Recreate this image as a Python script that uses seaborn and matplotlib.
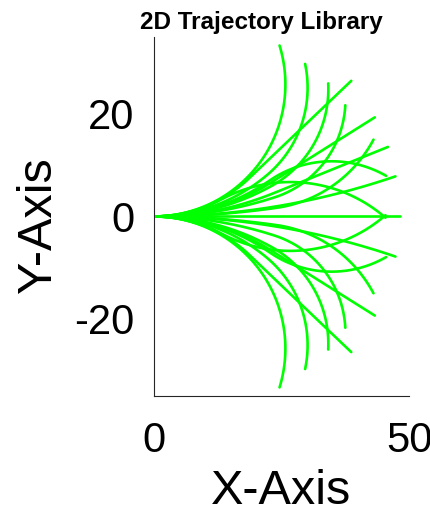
import numpy as np
import pandas as pd
import matplotlib
matplotlib.use("Agg")
import matplotlib.pyplot as plt
import seaborn as sns

# Each trajectory: start at origin with heading 0, first arc (curv1, len1),
# then a second arc with curv2 for the rest of the path length.
path_length = 48.2
curv1 = [0.0388, 0.0290, 0.0210, 0.0369, 0.0130, 0.0232, 0.0058, 0.0159, 0.0249, 0.0068, 0.0357, 0.0,
         -0.0388, -0.0290, -0.0210, -0.0369, -0.0130, -0.0232, -0.0058, -0.0249, -0.0068, -0.0357]
len1 = [24.1, 24.1, 24.1, 20.6, 24.1, 24.1, 24.1, 24.1, 24.1, 24.1, 13.8, 24.1,
        24.1, 24.1, 24.1, 20.6, 24.1, 24.1, 24.1, 24.1, 24.1, 13.8]
curv2 = [0.0388, 0.0449, 0.0464, 0.0, 0.0500, 0.0, 0.0391, 0.0, -0.0465, 0.0068, -0.0351, 0.0,
         -0.0388, -0.0449, -0.0464, 0.0, -0.0500, 0.0, -0.0391, 0.0465, -0.0068, 0.0351]

x_ticks = [0, 50]
y_ticks = [-20, 0, 20]

sns.set_theme(style="white")
plt.rcParams['font.family'] = ['Liberation Sans', 'DejaVu Sans']
plt.rcParams['axes.unicode_minus'] = False


def arc(h, k, s):
    u = k * s / 2.0
    sc = np.sinc(u / np.pi)
    return s * np.cos(h + u) * sc, s * np.sin(h + u) * sc, h + k * s


rows = []
for i, (k1, l1, k2) in enumerate(zip(curv1, len1, curv2)):
    s1 = np.linspace(0, l1, 60)
    x1, y1, h1 = arc(0.0, k1, s1)
    s2 = np.linspace(0, path_length - l1, 100)
    x2, y2, _ = arc(h1[-1], k2, s2)
    px = np.concatenate([x1, x1[-1] + x2[1:]])
    py = np.concatenate([y1, y1[-1] + y2[1:]])
    for n in range(len(px)):
        rows.append({"traj": i, "order": n, "x": px[n], "y": py[n]})
df = pd.DataFrame(rows)

fig = plt.figure(figsize=(4.31, 5.16), dpi=100)
ax = fig.add_axes([0.357, 0.233, 0.592, 0.695])
sns.lineplot(data=df, x="x", y="y", units="traj", estimator=None, sort=False,
             color="#00ff00", linewidth=1.9, ax=ax, legend=False)
ax.set_xlim(0, 50)
ax.set_ylim(-35, 35)
ax.set_xticks(x_ticks)
ax.set_yticks(y_ticks)
ax.tick_params(axis="both", direction="in", length=4, labelsize=30, width=0.8,
               colors="#262626", labelcolor="black")
ax.tick_params(axis="y", pad=14)
ax.tick_params(axis="x", pad=18)
for sp in ["top", "right"]:
    ax.spines[sp].set_visible(False)
for sp in ["left", "bottom"]:
    ax.spines[sp].set_color("#262626")
    ax.spines[sp].set_linewidth(0.8)
ax.set_xlabel("X-Axis", fontsize=35, color="black")
ax.set_ylabel("Y-Axis", fontsize=35, color="black")
ax.xaxis.set_label_coords(0.5, -0.205)
ax.yaxis.set_label_coords(-0.365, 0.476)
ax.set_title("2D Trajectory Library", fontsize=17.5, fontweight="bold", pad=6,
             color="black", x=0.42)
fig.savefig("out.png", dpi=100)
